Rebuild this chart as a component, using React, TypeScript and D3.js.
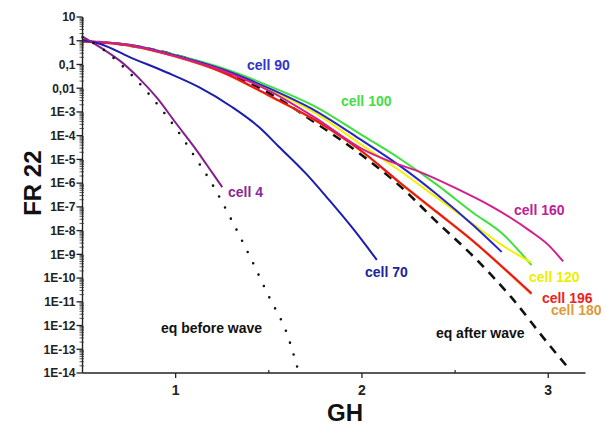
import React from "react";
import * as d3 from "d3";

const W = 605;
const H = 426;

// x: GH, y: FR 22
const eqBeforeGH = [0.5, 0.6, 0.7, 0.8, 0.9, 1.0, 1.1, 1.2, 1.3, 1.4, 1.5, 1.6, 1.66];
const eqBeforeFR = [1.4, 0.5, 0.11, 0.018, 2.2e-3, 2.1e-4, 1.4e-5, 8e-7, 2.8e-8, 7.6e-10, 1.7e-11, 4e-13, 1.1e-14];

const cell4GH = [0.5, 0.6, 0.7, 0.8, 0.9, 1.0, 1.1, 1.2, 1.25];
const cell4FR = [1.5, 0.5, 0.145, 0.028, 3.9e-3, 3.5e-4, 3.3e-5, 2.5e-6, 6.8e-7];

const cell70GH = [0.5, 0.6, 0.75, 0.95, 1.125, 1.3, 1.45, 1.55, 1.7, 1.82, 1.95, 2.08];
const cell70FR = [1.07, 0.71, 0.21, 0.047, 0.011, 1.66e-3, 2.2e-4, 3.7e-5, 2.5e-6, 2.1e-7, 1.26e-8, 5.8e-10];

const eqAfterGH = [0.5, 0.75, 1.0, 1.25, 1.5, 1.75, 2.0, 2.2, 2.4, 2.6, 2.8, 3.0, 3.12];
const eqAfterFR = [1, 0.63, 0.25, 0.056, 6.3e-3, 3.5e-4, 1.5e-5, 8.1e-7, 2.4e-8, 7.9e-10, 1.6e-11, 1.7e-13, 1.26e-14];

const cell100GH = [0.5, 0.75, 1.0, 1.25, 1.5, 1.75, 2.0, 2.2, 2.4, 2.6, 2.75, 2.91];
const cell100FR = [0.93, 0.68, 0.25, 0.071, 0.0126, 1.66e-3, 1.05e-4, 1.12e-5, 8.9e-7, 5.4e-8, 7.9e-9, 3.5e-10];

const cell90GH = [0.5, 0.75, 1.0, 1.25, 1.5, 1.75, 2.0, 2.2, 2.4, 2.6, 2.75];
const cell90FR = [0.93, 0.68, 0.24, 0.063, 0.01, 1.12e-3, 6.3e-5, 5.6e-6, 3.5e-7, 1.6e-8, 1.26e-9];

const cell120GH = [0.5, 0.75, 1.0, 1.25, 1.5, 1.75, 2.0, 2.2, 2.4, 2.6, 2.75, 2.91];
const cell120FR = [0.93, 0.68, 0.234, 0.06, 8.9e-3, 8.9e-4, 4e-5, 3.5e-6, 2.5e-7, 1.8e-8, 2.5e-9, 4.5e-10];

const cell160GH = [0.5, 0.75, 1.0, 1.25, 1.5, 1.75, 2.0, 2.15, 2.3, 2.5, 2.7, 2.9, 3.0, 3.08];
const cell160FR = [1.0, 0.66, 0.22, 0.056, 7.9e-3, 5.6e-4, 2.8e-5, 8.3e-6, 3.2e-6, 6.3e-7, 1e-7, 1e-8, 2.5e-9, 5e-10];

const cell196GH = [0.5, 0.75, 1.0, 1.25, 1.5, 1.75, 2.0, 2.2, 2.4, 2.6, 2.8, 2.91];
const cell196FR = [0.93, 0.63, 0.22, 0.048, 5e-3, 4.5e-4, 2.2e-5, 1.12e-6, 6.3e-8, 3.5e-9, 1.4e-10, 2.3e-11];

const cell180GH = [0.5, 0.75, 1.0, 1.25, 1.5, 1.75, 2.0, 2.2, 2.4, 2.6, 2.8, 2.91];
const cell180FR = [0.92, 0.62, 0.21, 0.046, 4.8e-3, 4.3e-4, 2.1e-5, 1.05e-6, 5.9e-8, 3.3e-9, 1.3e-10, 2.1e-11];

const yTickValues = [10, 1, 0.1, 0.01, 1e-3, 1e-4, 1e-5, 1e-6, 1e-7, 1e-8, 1e-9, 1e-10, 1e-11, 1e-12, 1e-13, 1e-14];
const yTickLabels = ["10", "1", "0,1", "0,01", "1E-3", "1E-4", "1E-5", "1E-6", "1E-7", "1E-8", "1E-9", "1E-10", "1E-11", "1E-12", "1E-13", "1E-14"];
const xTickValues = [1, 2, 3];
const xMinorTicks = [1.5, 2.5];

// annotation texts and their anchor points (GH, FR 22)
const labelTexts = ["cell 90", "cell 100", "cell 160", "cell 120", "cell 196", "cell 180", "cell 70", "cell 4", "eq before wave", "eq after wave"];
const labelGH = [1.383, 1.887, 2.816, 2.897, 2.966, 3.015, 2.016, 1.281, 0.921, 2.397];
const labelFR = [0.058, 1.8e-3, 4.6e-8, 6.8e-11, 8.9e-12, 2.8e-12, 1.1e-10, 2.6e-7, 4.8e-13, 2.9e-13];
const labelColors = ["#3333cc", "#44dd44", "#bb2299", "#eeee00", "#ee2222", "#dd9a3a", "#222299", "#8a2a9a", "#111", "#111"];

const FONT = "'Liberation Sans', Arial, sans-serif";

type Series = {
  name: string;
  gh: number[];
  fr: number[];
  color: string;
  width: number;
  dash?: string;
  cap?: "round" | "butt";
};

const series: Series[] = [
  { name: "eq after wave", gh: eqAfterGH, fr: eqAfterFR, color: "#111", width: 2.6, dash: "9 7" },
  { name: "cell 100", gh: cell100GH, fr: cell100FR, color: "#3ee03e", width: 2 },
  { name: "cell 120", gh: cell120GH, fr: cell120FR, color: "#f2f200", width: 2 },
  { name: "cell 90", gh: cell90GH, fr: cell90FR, color: "#2626cc", width: 2 },
  { name: "cell 180", gh: cell180GH, fr: cell180FR, color: "#e8902a", width: 2 },
  { name: "cell 196", gh: cell196GH, fr: cell196FR, color: "#f01414", width: 2 },
  { name: "cell 160", gh: cell160GH, fr: cell160FR, color: "#d21f8c", width: 2 },
  { name: "cell 70", gh: cell70GH, fr: cell70FR, color: "#1c1cae", width: 2 },
  { name: "cell 4", gh: cell4GH, fr: cell4FR, color: "#84208e", width: 2 },
  { name: "eq before wave", gh: eqBeforeGH, fr: eqBeforeFR, color: "#111", width: 2.6, dash: "0 12.5", cap: "round" },
];

export default function App() {
  const x = d3.scaleLinear().domain([0.5, 3.2]).range([82.5, 585.5]);
  const y = d3.scaleLog().domain([1e-14, 10]).range([373, 17]);

  const minorY: number[] = [];
  for (let e = -14; e < 1; e++) {
    for (let k = 2; k <= 9; k++) minorY.push(k * Math.pow(10, e));
  }

  const line = d3
    .line<[number, number]>()
    .x((d) => x(d[0]))
    .y((d) => y(d[1]))
    .curve(d3.curveMonotoneX);

  return (
    <svg width={W} height={H} style={{ position: "absolute", left: 0, top: 0, background: "#fff" }} fontFamily={FONT}>
      <rect width={W} height={H} fill="#fff" />
      {series.map((s) => (
        <path
          key={s.name}
          d={line(s.gh.map((g, i) => [g, s.fr[i]] as [number, number])) || ""}
          fill="none"
          stroke={s.color}
          strokeWidth={s.width}
          strokeDasharray={s.dash}
          strokeLinecap={s.cap || "butt"}
          strokeLinejoin="round"
        />
      ))}
      {/* axes */}
      <line x1={x(0.5)} x2={x(3.2)} y1={y(1e-14)} y2={y(1e-14)} stroke="#222" strokeWidth={1.4} />
      <line x1={x(0.5)} x2={x(0.5)} y1={y(1e-14)} y2={y(10)} stroke="#222" strokeWidth={1.4} />
      {yTickValues.map((v, i) => (
        <g key={"yt" + i}>
          <line x1={x(0.5) - 6} x2={x(0.5)} y1={y(v)} y2={y(v)} stroke="#222" strokeWidth={1.3} />
          <text x={x(0.5) - 7} y={y(v)} dy="0.36em" textAnchor="end" fontSize={12} fontWeight="bold" fill="#222">
            {yTickLabels[i]}
          </text>
        </g>
      ))}
      {minorY.map((v, i) => (
        <line key={"ym" + i} x1={x(0.5) - 3} x2={x(0.5) + 1.5} y1={y(v)} y2={y(v)} stroke="#333" strokeWidth={0.8} />
      ))}
      {xTickValues.map((v) => (
        <g key={"xt" + v}>
          <line x1={x(v)} x2={x(v)} y1={y(1e-14)} y2={y(1e-14) + 5} stroke="#222" strokeWidth={1.3} />
          <text x={x(v)} y={y(1e-14) + 22} textAnchor="middle" fontSize={14} fontWeight="bold" fill="#222">
            {v}
          </text>
        </g>
      ))}
      {xMinorTicks.map((v) => (
        <line key={"xm" + v} x1={x(v)} x2={x(v)} y1={y(1e-14) - 3} y2={y(1e-14)} stroke="#222" strokeWidth={1.2} />
      ))}
      {/* axis titles */}
      <text x={345} y={421} textAnchor="middle" fontSize={24} fontWeight="bold" fill="#111">
        GH
      </text>
      <text
        transform={`translate(41, ${y(1e-6)}) rotate(-90)`}
        textAnchor="middle"
        fontSize={24}
        fontWeight="bold"
        fill="#111"
      >
        FR 22
      </text>
      {/* annotations */}
      {labelTexts.map((t, i) => (
        <text key={t} x={x(labelGH[i])} y={y(labelFR[i])} fontSize={14} fontWeight="bold" fill={labelColors[i]}>
          {t}
        </text>
      ))}
    </svg>
  );
}
